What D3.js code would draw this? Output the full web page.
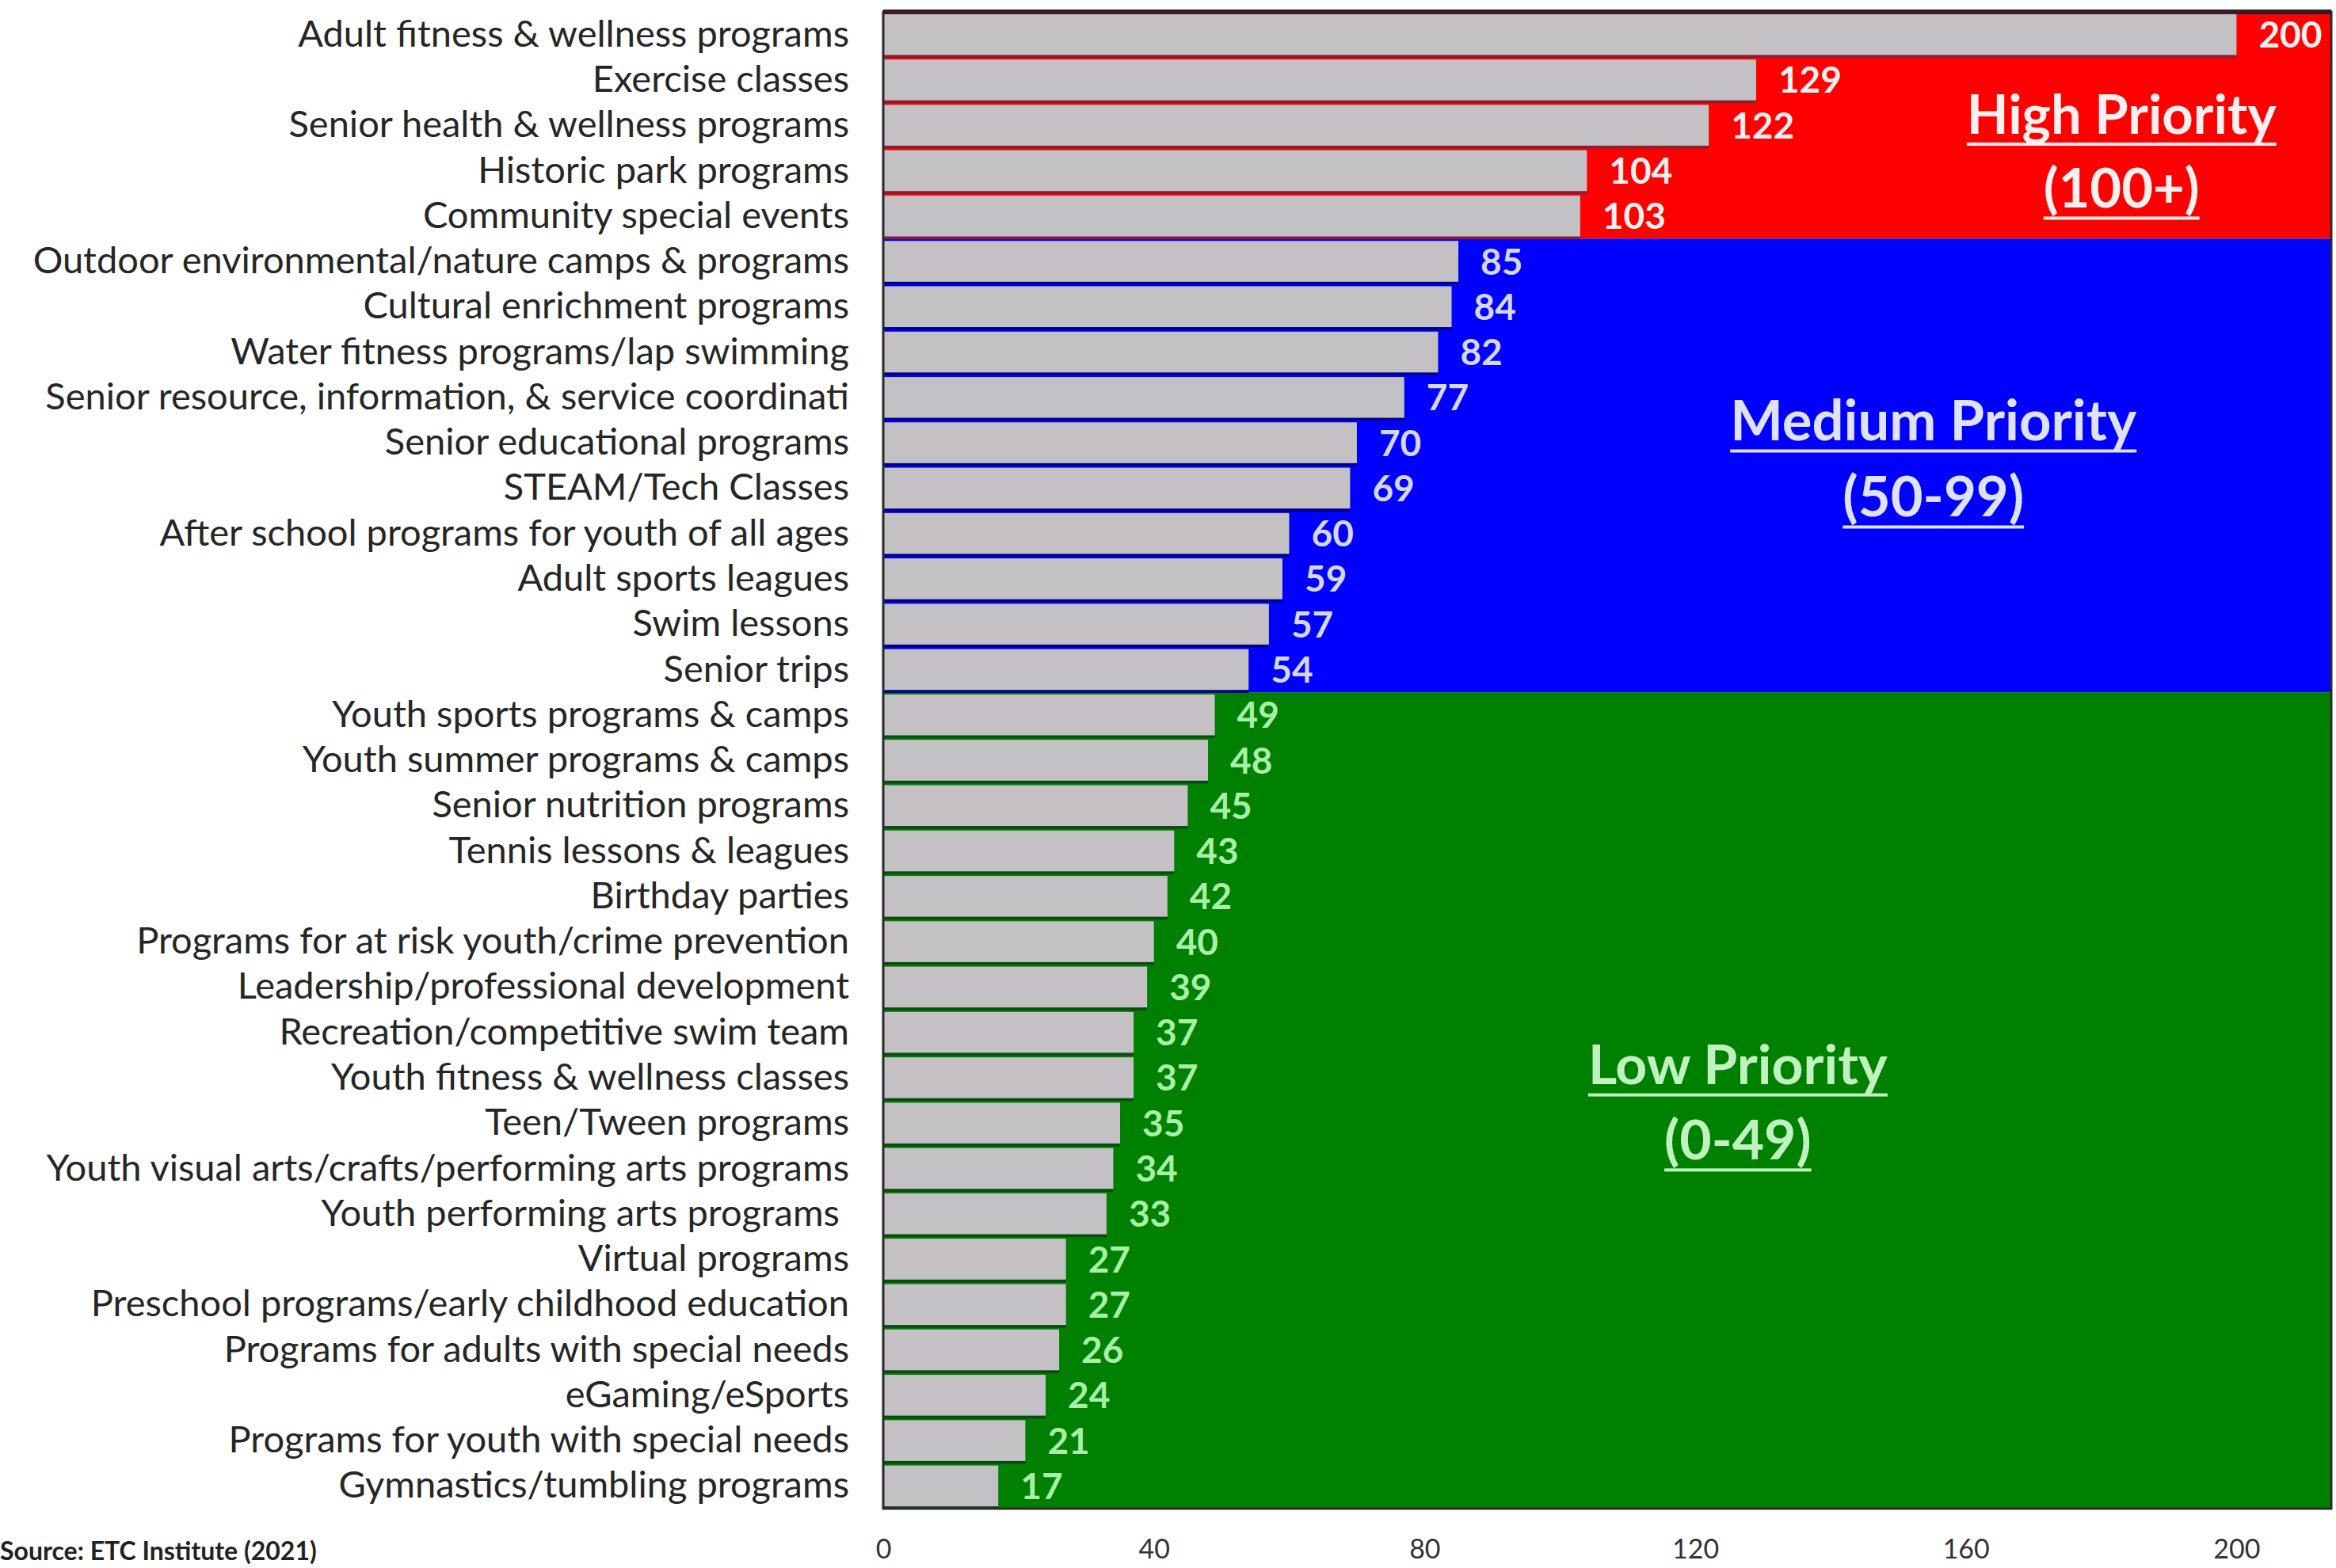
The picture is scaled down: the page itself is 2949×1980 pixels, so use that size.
<!DOCTYPE html>
<html>
<head>
<meta charset="utf-8">
<script src="https://cdn.jsdelivr.net/npm/d3@7/dist/d3.min.js"></script>
<style>
  html, body { margin: 0; padding: 0; background: #fff; }
  svg { display: block; }
</style>
</head>
<body>
<svg id="chart" width="2949" height="1980"></svg>
<script>
const categories = [
  "Adult fitness & wellness programs",
  "Exercise classes",
  "Senior health & wellness programs",
  "Historic park programs",
  "Community special events",
  "Outdoor environmental/nature camps & programs",
  "Cultural enrichment programs",
  "Water fitness programs/lap swimming",
  "Senior resource, information, & service coordinati",
  "Senior educational programs",
  "STEAM/Tech Classes",
  "After school programs for youth of all ages",
  "Adult sports leagues",
  "Swim lessons",
  "Senior trips",
  "Youth sports programs & camps",
  "Youth summer programs & camps",
  "Senior nutrition programs",
  "Tennis lessons & leagues",
  "Birthday parties",
  "Programs for at risk youth/crime prevention",
  "Leadership/professional development",
  "Recreation/competitive swim team",
  "Youth fitness & wellness classes",
  "Teen/Tween programs",
  "Youth visual arts/crafts/performing arts programs",
  "Youth performing arts programs ",
  "Virtual programs",
  "Preschool programs/early childhood education",
  "Programs for adults with special needs",
  "eGaming/eSports",
  "Programs for youth with special needs",
  "Gymnastics/tumbling programs"
];
const values = [200,129,122,104,103,85,84,82,77,70,69,60,59,57,54,49,48,45,43,42,40,39,37,37,35,34,33,27,27,26,24,21,17];
const xTicks = [0,40,80,120,160,200];
const priorityNames = ["High Priority","Medium Priority","Low Priority"];
const priorityRanges = ["(100+)","(50-99)","(0-49)"];
const priorityRowStart = [0,5,15];
const priorityRowEnd = [5,15,33];
const sourceText = "Source: ETC Institute (2021)";

const W = 2949, H = 1980;
const L = 1115, R = 2943, T = 15, B = 1905;
const FONT = "Lato, Carlito, Calibri, 'Open Sans', sans-serif";

const svg = d3.select("#chart");
const x = d3.scaleLinear().domain([0, 214]).range([L, R]);
const y = d3.scaleBand().domain(categories).range([T, B]).paddingInner(0.1).paddingOuter(0.05);
const step = y.step(), bw = y.bandwidth();
const gapHalf = (step - bw) / 2;
function boundary(i) {
  if (i <= 0) return T;
  if (i >= categories.length) return B;
  return y(categories[i]) - gapHalf;
}

const regionFill = ["#ff0000", "#0000ff", "#008000"];
const shadowFill = ["#8e1c30", "#00008e", "#0b4a12"];
const labelFill = ["#fff0f0", "#d4d8ff", "#a8f0a8"];
const titleFill = ["#fff0f0", "#dfe2ff", "#bff2bf"];
function regionOf(i) { return i < 5 ? 0 : (i < 15 ? 1 : 2); }

svg.append("defs").append("clipPath").attr("id", "plotclip")
  .append("rect").attr("x", L).attr("y", T).attr("width", R - L).attr("height", B - T);

const plot = svg.append("g").attr("clip-path", "url(#plotclip)");

// region backgrounds
plot.selectAll("rect.region").data(priorityNames).join("rect")
  .attr("class", "region")
  .attr("x", L)
  .attr("y", (d, k) => boundary(priorityRowStart[k]))
  .attr("width", R - L)
  .attr("height", (d, k) => boundary(priorityRowEnd[k]) - boundary(priorityRowStart[k]))
  .attr("fill", (d, k) => regionFill[k]);

const rows = categories.map((c, i) => ({ c, v: values[i], i, r: regionOf(i) }));

// bar shadows (dark gap lines)
plot.selectAll("rect.shadow").data(rows).join("rect")
  .attr("class", "shadow")
  .attr("x", x(0))
  .attr("y", d => y(d.c) + bw - 1)
  .attr("width", d => x(d.v) - x(0))
  .attr("height", gapHalf * 2 - 1)
  .attr("fill", d => shadowFill[d.r]);

// bars
plot.selectAll("rect.bar").data(rows).join("rect")
  .attr("class", "bar")
  .attr("x", x(0))
  .attr("y", d => y(d.c))
  .attr("width", d => x(d.v) - x(0))
  .attr("height", bw)
  .attr("fill", "#c3c1c4");

// value labels
plot.selectAll("text.val").data(rows).join("text")
  .attr("class", "val")
  .attr("x", d => x(d.v) + 28)
  .attr("y", d => y(d.c) + bw / 2)
  .attr("dy", "0.36em")
  .attr("font-family", FONT)
  .attr("font-weight", 700)
  .attr("font-size", 46)
  .attr("fill", d => labelFill[d.r])
  .text(d => d.v);

// priority titles
const titlePos = [
  { xv: 183, row: 2.34, w: 391 },
  { xv: 155.2, row: 9.1, w: 513 },
  { xv: 126.3, row: 23.3, w: 378 }
];
priorityNames.forEach((name, k) => {
  const p = titlePos[k];
  const cx = x(p.xv);
  const base1 = T + p.row * step + 20;
  const g = plot.append("g");
  const t1 = g.append("text")
    .attr("x", cx).attr("y", base1)
    .attr("text-anchor", "middle")
    .attr("font-family", FONT).attr("font-weight", 700)
    .attr("font-size", 64).attr("fill", titleFill[k])
    .text(name);
  const len = t1.node().getComputedTextLength();
  const fs = 64 * p.w / len;
  t1.attr("font-size", fs);
  const lineGap = fs * 1.36;
  const t2 = g.append("text")
    .attr("x", cx).attr("y", base1 + lineGap)
    .attr("text-anchor", "middle")
    .attr("font-family", FONT).attr("font-weight", 700)
    .attr("font-size", fs).attr("fill", titleFill[k])
    .text(priorityRanges[k]);
  const len2 = t2.node().getComputedTextLength();
  g.append("rect").attr("x", cx - p.w / 2).attr("y", base1 + fs * 0.16)
    .attr("width", p.w).attr("height", 4).attr("fill", titleFill[k]);
  g.append("rect").attr("x", cx - len2 / 2).attr("y", base1 + lineGap + fs * 0.16)
    .attr("width", len2).attr("height", 4).attr("fill", titleFill[k]);
});

// frame
svg.append("rect").attr("x", L).attr("y", T).attr("width", R - L).attr("height", B - T)
  .attr("fill", "none").attr("stroke", "#2a2a2a").attr("stroke-width", 3);
svg.append("line").attr("x1", L).attr("x2", R).attr("y1", T).attr("y2", T)
  .attr("stroke", "#3a1a22").attr("stroke-width", 6);

// category labels (y axis)
const yAxis = d3.axisLeft(y).tickSize(0).tickPadding(0);
const yg = svg.append("g").attr("transform", `translate(${1072},0)`).call(yAxis);
yg.select(".domain").remove();
yg.selectAll("text")
  .attr("font-family", FONT)
  .attr("font-size", 42)
  .attr("fill", "#262626")
  .style("white-space", "pre")
  .attr("xml:space", "preserve");
const firstLab = yg.select("text").node();
const targetW = 696;
const curW = firstLab.getComputedTextLength();
yg.selectAll("text").attr("font-size", 42 * targetW / curW);

// x axis
const xAxis = d3.axisBottom(x).tickValues(xTicks).tickSize(0).tickPadding(0);
const xg = svg.append("g").attr("transform", `translate(0,${1944})`).call(xAxis);
xg.select(".domain").remove();
xg.selectAll("text")
  .attr("font-family", FONT)
  .attr("font-size", 34)
  .attr("fill", "#333")
  .attr("dy", "0.71em");

// source
svg.append("text")
  .attr("x", 0).attr("y", 1970)
  .attr("font-family", FONT).attr("font-weight", 700)
  .attr("font-size", 32).attr("fill", "#222")
  .text(sourceText);
</script>
</body>
</html>
